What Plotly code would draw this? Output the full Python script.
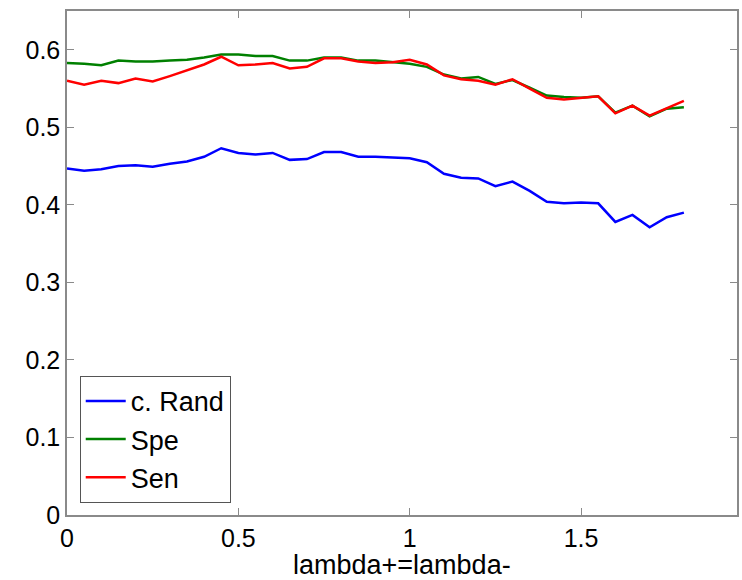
import plotly.graph_objects as go

x_vals = [round(i * 0.05, 2) for i in range(37)]

crand = [0.447, 0.444, 0.446, 0.450, 0.451, 0.449, 0.453, 0.456, 0.462, 0.473,
         0.467, 0.465, 0.467, 0.458, 0.459, 0.468, 0.468, 0.462, 0.462, 0.461,
         0.460, 0.455, 0.440, 0.435, 0.434, 0.424, 0.430, 0.418, 0.404, 0.402,
         0.403, 0.402, 0.378, 0.387, 0.371, 0.384, 0.390]

spe = [0.583, 0.582, 0.580, 0.586, 0.585, 0.585, 0.586, 0.587, 0.590, 0.594,
       0.594, 0.592, 0.592, 0.586, 0.586, 0.590, 0.590, 0.586, 0.586, 0.584,
       0.582, 0.578, 0.568, 0.563, 0.565, 0.556, 0.561, 0.551, 0.541, 0.539,
       0.538, 0.540, 0.519, 0.528, 0.514, 0.524, 0.526]

sen = [0.560, 0.555, 0.560, 0.557, 0.563, 0.559, 0.566, 0.573, 0.581, 0.591,
       0.580, 0.581, 0.583, 0.576, 0.578, 0.589, 0.589, 0.585, 0.583, 0.584,
       0.587, 0.581, 0.567, 0.562, 0.560, 0.555, 0.562, 0.550, 0.538, 0.536,
       0.538, 0.540, 0.518, 0.528, 0.515, 0.525, 0.534]

series_names = ["c. Rand", "Spe", "Sen"]
series_colors = ["#0000FF", "#008000", "#FF0000"]

x_ticks = [0, 0.5, 1, 1.5]
x_tick_labels = ["0", "0.5", "1", "1.5"]
y_ticks = [0, 0.1, 0.2, 0.3, 0.4, 0.5, 0.6]
y_tick_labels = ["0", "0.1", "0.2", "0.3", "0.4", "0.5", "0.6"]
x_title = "lambda+=lambda-"

FONT = "Liberation Sans, Arial, Helvetica, sans-serif"

fig = go.Figure()
for name, ys, col in zip(series_names, [crand, spe, sen], series_colors):
    fig.add_trace(go.Scatter(x=x_vals, y=ys, mode="lines", name=name,
                             line=dict(color=col, width=2.5)))

axis_common = dict(showgrid=False, zeroline=False, showline=True, mirror="ticks",
                   linecolor="#8a8a8a", linewidth=1.5, ticks="inside", ticklen=7,
                   tickcolor="#8a8a8a", tickfont=dict(size=25, color="black", family=FONT),
                   automargin=False)

fig.update_xaxes(range=[0, 1.955], tickvals=x_ticks, ticktext=x_tick_labels, **axis_common)
fig.update_yaxes(range=[0, 0.65], tickvals=y_ticks, ticktext=y_tick_labels, **axis_common)

fig.add_annotation(text=x_title, xref="paper", yref="paper", x=0.5, y=-0.099,
                   xanchor="center", yanchor="middle", showarrow=False,
                   font=dict(size=27, color="black", family=FONT))

fig.update_layout(
    width=742, height=580,
    margin=dict(l=67, r=5, t=11, b=65),
    paper_bgcolor="white", plot_bgcolor="white",
    font=dict(family=FONT, color="black"),
    legend=dict(x=0.019, y=0.024, xanchor="left", yanchor="bottom",
                bgcolor="white", bordercolor="#555555", borderwidth=1,
                font=dict(size=27, color="black", family=FONT),
                tracegroupgap=0, itemwidth=40),
)

fig.write_html("out.html")
